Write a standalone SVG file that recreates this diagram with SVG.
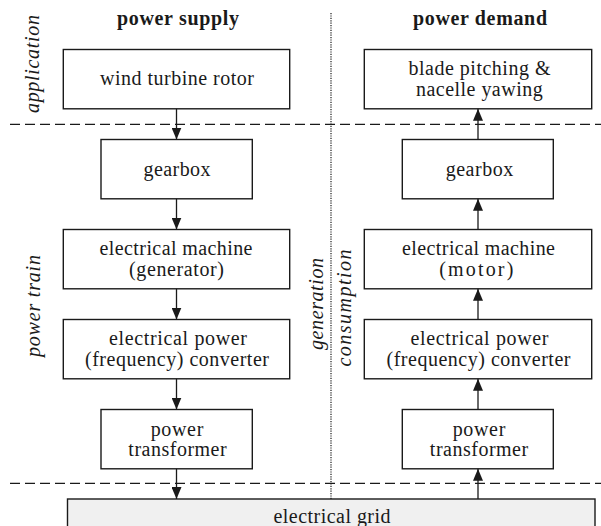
<svg xmlns="http://www.w3.org/2000/svg" width="601" height="526" viewBox="0 0 601 526">
<defs>
<style>
.bx{fill:#fff;stroke:#1a1a1a;stroke-width:1.4}
.grid{fill:#f0f0f0;stroke:#1a1a1a;stroke-width:1.4}
.c{stroke:#1a1a1a;stroke-width:1.3;fill:none;marker-end:url(#ah)}
.dash{stroke:#1a1a1a;stroke-width:1.3;stroke-dasharray:10 5;fill:none}
.dot{stroke:#1a1a1a;stroke-width:1.2;stroke-dasharray:1.2 1.2;fill:none}
</style>
<marker id="ah" viewBox="0 0 12 10" refX="12" refY="5" markerWidth="12" markerHeight="10" markerUnits="userSpaceOnUse" orient="auto">
<path d="M0,0 L12,5 L0,10 z" fill="#1a1a1a"/>
</marker>
</defs>
<rect width="601" height="526" fill="#fff"/>

<g id="separators">
<line class="dot" x1="331" y1="13" x2="331" y2="499"/>
<line class="dash" x1="10" y1="124.3" x2="601" y2="124.3"/>
<line class="dash" x1="10" y1="483.3" x2="601" y2="483.3"/>
</g>

<g font-family="Liberation Serif, Times New Roman, serif" font-size="20" fill="#1a1a1a" text-anchor="middle">
<g id="headers" font-weight="bold">
<text x="178" y="25" textLength="122" lengthAdjust="spacing">power supply</text>
<text x="480" y="25" textLength="134" lengthAdjust="spacing">power demand</text>
</g>

<g id="side-labels" font-style="italic">
<text transform="translate(39,64) rotate(-90)" textLength="98" lengthAdjust="spacing">application</text>
<text transform="translate(39.5,306) rotate(-90)" textLength="102" lengthAdjust="spacing">power train</text>
<text transform="translate(323,304) rotate(-90)" textLength="92" lengthAdjust="spacing">generation</text>
<text transform="translate(350.5,308) rotate(-90)" textLength="117" lengthAdjust="spacing">consumption</text>
</g>

<g id="rotor">
<rect class="bx" x="63.3" y="49.5" width="226.4" height="59.3"/>
<text x="177" y="84.5" textLength="154" lengthAdjust="spacing">wind turbine rotor</text>
</g>
<g id="gearbox-supply">
<rect class="bx" x="101" y="139.5" width="151.3" height="59.3"/>
<text x="177" y="175.5" textLength="67" lengthAdjust="spacing">gearbox</text>
</g>
<g id="generator">
<rect class="bx" x="63.3" y="229.5" width="226.4" height="59.3"/>
<text x="176" y="254.5" textLength="153" lengthAdjust="spacing">electrical machine</text>
<text x="176.5" y="275.5" textLength="95" lengthAdjust="spacing">(generator)</text>
</g>
<g id="converter-supply">
<rect class="bx" x="63.3" y="319.5" width="226.4" height="59.3"/>
<text x="178" y="345" textLength="138" lengthAdjust="spacing">electrical power</text>
<text x="177" y="366" textLength="184" lengthAdjust="spacing">(frequency) converter</text>
</g>
<g id="transformer-supply">
<rect class="bx" x="101" y="409.5" width="151.3" height="59.3"/>
<text x="177" y="435.5" textLength="52.6" lengthAdjust="spacing">power</text>
<text x="177.5" y="456" textLength="98.3" lengthAdjust="spacing">transformer</text>
</g>

<g id="pitch-yaw">
<rect class="bx" x="364.3" y="49.5" width="227.4" height="59.3"/>
<text x="479.5" y="75" textLength="142" lengthAdjust="spacing">blade pitching &amp;</text>
<text x="479.3" y="95.5" textLength="126.7" lengthAdjust="spacing">nacelle yawing</text>
</g>
<g id="gearbox-demand">
<rect class="bx" x="402.3" y="139.5" width="151" height="59.3"/>
<text x="479.5" y="175.5" textLength="67.7" lengthAdjust="spacing">gearbox</text>
</g>
<g id="motor">
<rect class="bx" x="364.3" y="229.5" width="227.4" height="59.3"/>
<text x="478.5" y="254.5" textLength="153" lengthAdjust="spacing">electrical machine</text>
<text x="476.3" y="275.5" textLength="74" lengthAdjust="spacing">(motor)</text>
</g>
<g id="converter-demand">
<rect class="bx" x="364.3" y="319.5" width="227.4" height="59.3"/>
<text x="479.5" y="345" textLength="138" lengthAdjust="spacing">electrical power</text>
<text x="478.5" y="366" textLength="184" lengthAdjust="spacing">(frequency) converter</text>
</g>
<g id="transformer-demand">
<rect class="bx" x="402.3" y="409.5" width="151" height="59.3"/>
<text x="479" y="435.5" textLength="52.6" lengthAdjust="spacing">power</text>
<text x="479" y="456" textLength="98.3" lengthAdjust="spacing">transformer</text>
</g>

<g id="grid">
<rect class="grid" x="67.5" y="499" width="527.5" height="40"/>
<text x="332" y="522.5" textLength="117" lengthAdjust="spacing">electrical grid</text>
</g>
</g>

<g id="connectors">
<line class="c" x1="176.5" y1="108.8" x2="176.5" y2="139.5"/>
<line class="c" x1="176.5" y1="198.8" x2="176.5" y2="229.5"/>
<line class="c" x1="176.5" y1="288.8" x2="176.5" y2="319.5"/>
<line class="c" x1="176.5" y1="378.8" x2="176.5" y2="409.5"/>
<line class="c" x1="176.5" y1="468.8" x2="176.5" y2="499"/>
<line class="c" x1="478" y1="499" x2="478" y2="468.8"/>
<line class="c" x1="478" y1="409.5" x2="478" y2="378.8"/>
<line class="c" x1="478" y1="319.5" x2="478" y2="288.8"/>
<line class="c" x1="478" y1="229.5" x2="478" y2="198.8"/>
<line class="c" x1="478" y1="139.5" x2="478" y2="108.8"/>
</g>
</svg>
